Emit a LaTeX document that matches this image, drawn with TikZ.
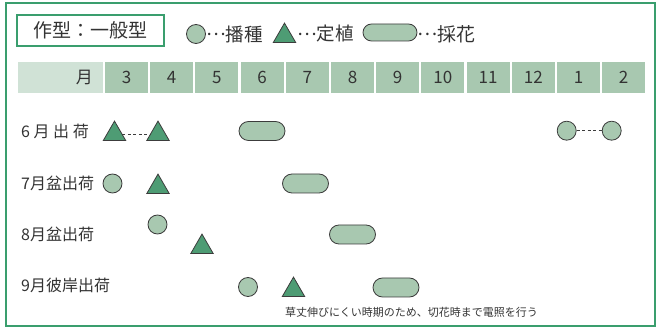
\documentclass[tikz,border=0pt]{standalone}
\usepackage{fontspec}
\setmainfont{Noto Sans CJK JP}
\usetikzlibrary{shapes.geometric}
\definecolor{framegreen}{HTML}{3A9E6E}
\definecolor{sage}{HTML}{A8C8B0}
\definecolor{palesage}{HTML}{D0E2D6}
\definecolor{leaf}{HTML}{4E9C74}
\definecolor{edgegray}{HTML}{3C3C3C}
\definecolor{textgray}{HTML}{333333}
\newcommand{\middots}{\raisebox{0.3em}{…}}
\begin{document}
\begin{tikzpicture}[x=1pt, y=-1pt, font=\fontsize{16}{18}\selectfont, text=textgray]
    % Node style
    \tikzstyle{sow node}=[circle,draw=edgegray,line width=0.8pt,fill=sage,minimum size=19pt,inner sep=0pt]
    \tikzstyle{plant node}=[regular polygon,regular polygon sides=3,draw=edgegray,line width=0.8pt,fill=leaf,minimum size=26pt,inner sep=0pt,anchor=south]
    \tikzstyle{harvest node}=[rectangle,rounded corners=9.5pt,draw=edgegray,line width=0.8pt,fill=sage,minimum width=46pt,minimum height=19pt,inner sep=0pt]
    \tikzstyle{month cell}=[fill=sage,minimum width=43pt,minimum height=31pt,inner sep=0pt,font=\fontsize{17}{19}\selectfont]
    \tikzstyle{wait line}=[dashed,edgegray,line width=0.6pt,dash pattern=on 3pt off 2.5pt]

    \useasboundingbox (0,0) rectangle (657,331);

    % --- Frame and title ---
    \draw[framegreen, line width=2pt] (6,3) rectangle (655,326);
    \node[draw=framegreen, line width=1.5pt, minimum width=147pt, minimum height=31pt, inner sep=0pt, font=\fontsize{19}{21}\selectfont] (title) at (90.5,30.5) {作型：一般型};

    % --- Legend ---
    \node[sow node] (key_sow) at (196,34) {};
    \node[anchor=west, inner sep=0pt, font=\fontsize{18.5}{20}\selectfont] (key_sow_txt) at (206,34) {\middots 播種};
    \node[plant node] (key_plant) at (284.5,43) {};
    \node[anchor=west, inner sep=0pt, font=\fontsize{18.5}{20}\selectfont] (key_plant_txt) at (297,34) {\middots 定植};
    \node[harvest node, minimum width=54pt, minimum height=17pt, rounded corners=8.5pt] (key_harvest) at (390,32.5) {};
    \node[anchor=west, inner sep=0pt, font=\fontsize{19}{21}\selectfont] (key_harvest_txt) at (417,34) {\middots 採花};

    % --- Month header ---
    \node[fill=palesage, minimum width=85pt, minimum height=31pt, inner sep=0pt] (head) at (60.5,77.5) {};
    \node[anchor=east, inner sep=0pt, font=\fontsize{17}{19}\selectfont] (head_txt) at (93,77.5) {月};
    \foreach \m [count=\i from 0] in {3,4,5,6,7,8,9,10,11,12,1,2}
        \node[month cell] (m_\m) at ({126.5+45.2*\i},77.5) {\m};

    % --- Row 1: 6月出荷 ---
    \node[anchor=west, inner sep=0pt] (row_1) at (21,131) {6 月 出 荷};
    \node[plant node] (plant_1a) at (114.5,141) {};
    \node[plant node] (plant_1b) at (158,141) {};
    \draw[wait line] (plant_1a) -- (plant_1b);
    \node[harvest node] (harvest_1) at (262,131) {};
    \node[sow node] (sow_1a) at (566.7,130.7) {};
    \node[sow node] (sow_1b) at (611.7,130.7) {};
    \draw[wait line] (sow_1a) -- (sow_1b);

    % --- Row 2: 7月盆出荷 ---
    \node[anchor=west, inner sep=0pt] (row_2) at (21,183) {7月盆出荷};
    \node[sow node] (sow_2) at (112.5,183.5) {};
    \node[plant node] (plant_2) at (158,194) {};
    \node[harvest node] (harvest_2) at (305.5,183.5) {};

    % --- Row 3: 8月盆出荷 ---
    \node[anchor=west, inner sep=0pt] (row_3) at (21,234) {8月盆出荷};
    \node[sow node] (sow_3) at (157.5,224.5) {};
    \node[plant node] (plant_3) at (202,254) {};
    \node[harvest node] (harvest_3) at (352.5,234.5) {};

    % --- Row 4: 9月彼岸出荷 ---
    \node[anchor=west, inner sep=0pt] (row_4) at (21,285) {9月彼岸出荷};
    \node[sow node] (sow_4) at (248,287) {};
    \node[plant node] (plant_4) at (293.5,297) {};
    \node[harvest node] (harvest_4) at (396,287.5) {};
    \node[font=\fontsize{11}{13}\selectfont, inner sep=0pt] (note) at (411.5,312) {草丈伸びにくい時期のため、切花時まで電照を行う};

\end{tikzpicture}
\end{document}
